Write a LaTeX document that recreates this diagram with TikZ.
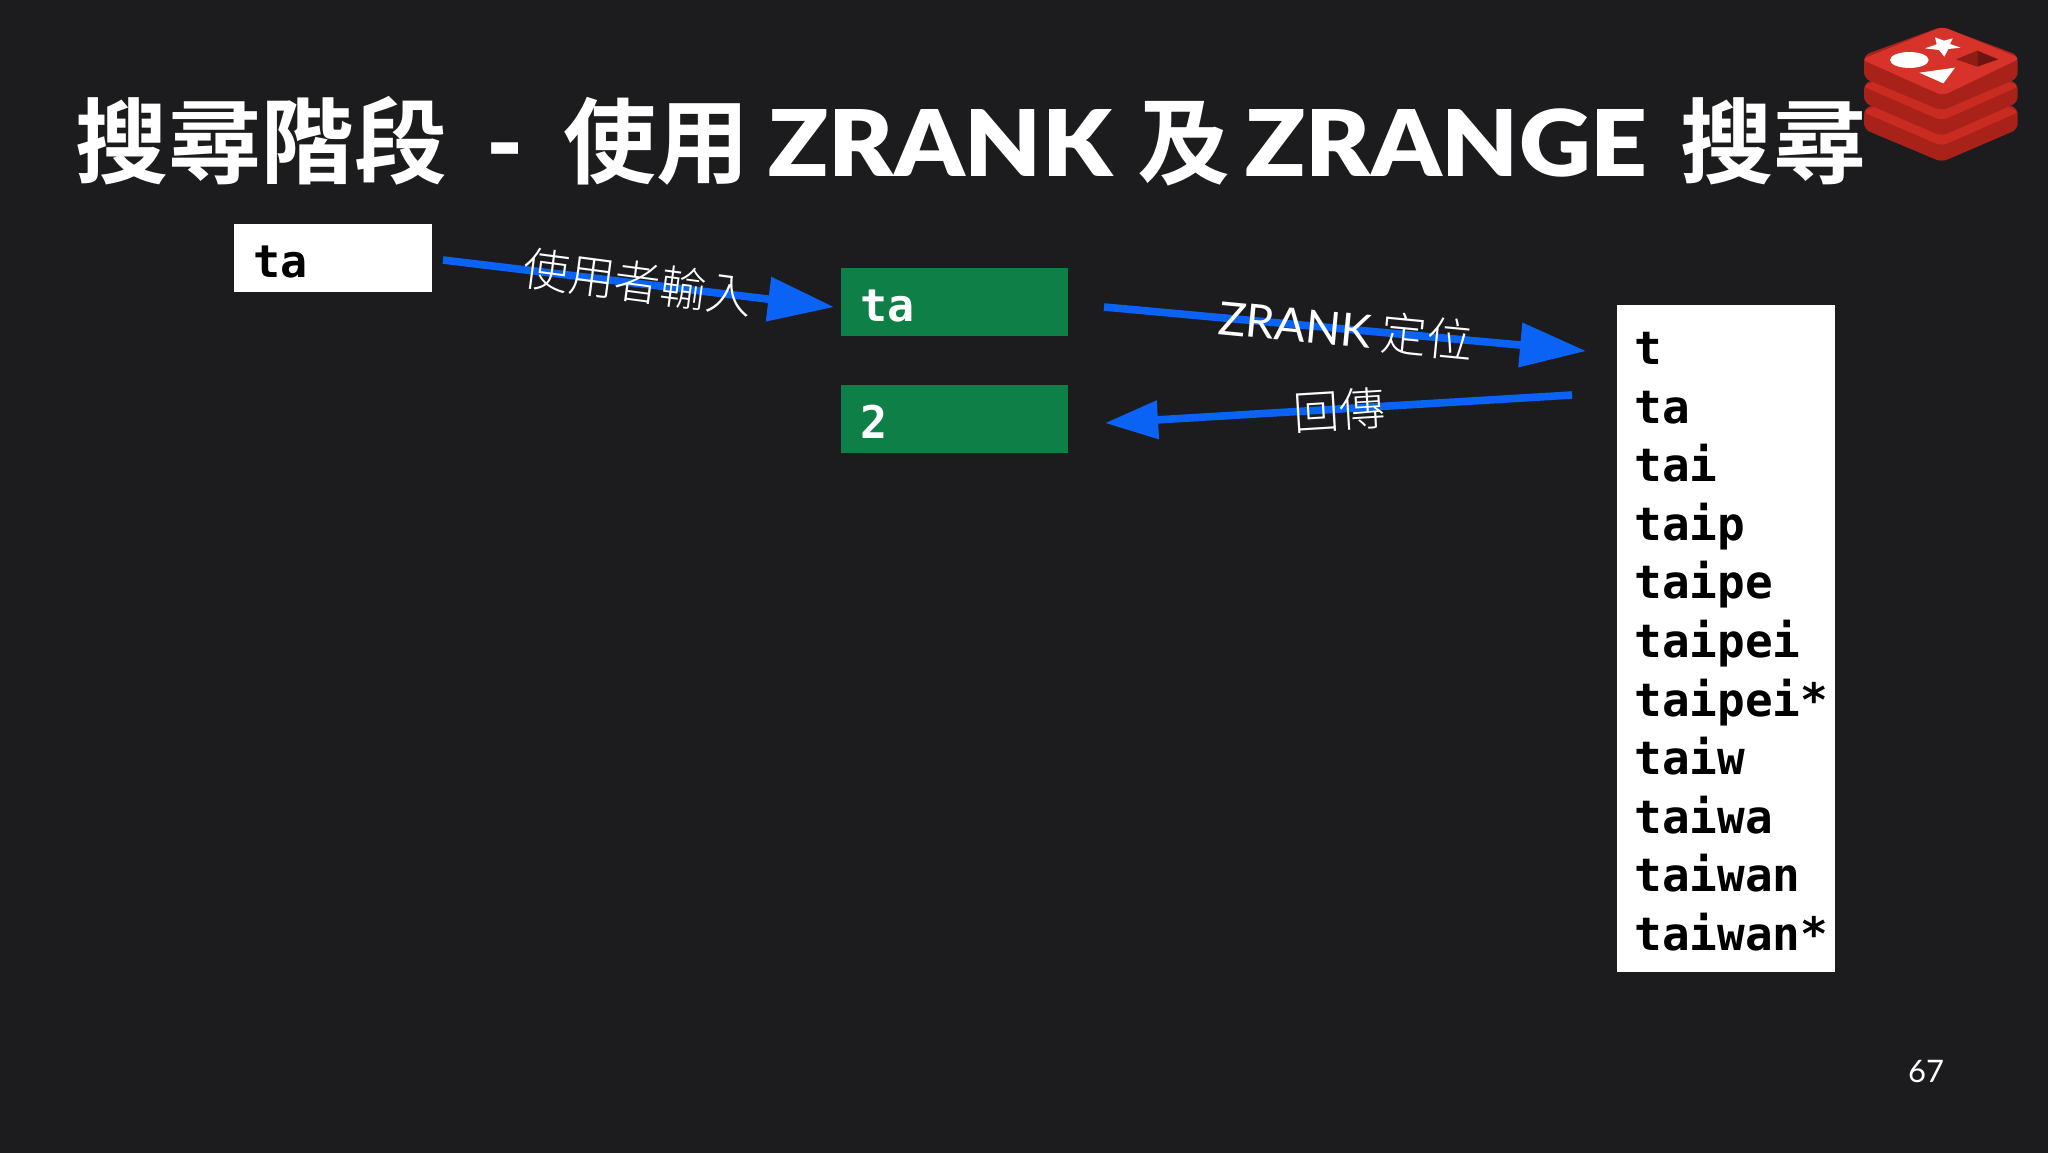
\documentclass[tikz,border=0pt]{standalone}
\usepackage{fontspec}
\usetikzlibrary{arrows.meta}
\setmainfont{Lato}
\newfontfamily\cjkbold{Noto Sans CJK TC}[BoldFont={* Bold}]
\newfontfamily\cjklight{Noto Sans CJK TC Light}
\newfontfamily\latinheavy{Lato Black}[FakeStretch=1.08]
\newfontfamily\latinlight{Lato}
\newfontfamily\monobold{DejaVu Sans Mono}
\definecolor{bgdark}{HTML}{1C1C1E}
\definecolor{boxgreen}{HTML}{0E7F47}
\definecolor{arrowblue}{HTML}{0A63F5}
\definecolor{redistop}{HTML}{D8332A}
\definecolor{redisside}{HTML}{A8221A}
\definecolor{redislip}{HTML}{C92B21}
\newcommand{\titlecjk}[2]{\makebox[#1][l]{\cjkbold\bfseries\fontsize{46.5pt}{50pt}\selectfont #2}}
\newcommand{\titlelat}[2]{\makebox[#1][l]{\latinheavy\fontsize{46pt}{50pt}\selectfont #2}}
\tikzset{
  whitebox/.style={fill=white,text=black,anchor=north west,minimum width=99pt,minimum height=34pt,inner xsep=9.5pt,inner ysep=0pt,text width=80pt,align=left,text height=19pt,text depth=0pt,font=\monobold\bfseries\fontsize{22.5pt}{24pt}\selectfont},
  greenbox/.style={whitebox,fill=boxgreen,text=white,minimum width=113.5pt,text width=94.5pt},
  listbox/.style={fill=white,text=black,anchor=north west,minimum width=109pt,minimum height=333.5pt,inner xsep=8.5pt,inner ysep=0pt,text width=92pt,align=left,font=\monobold\bfseries\fontsize{23pt}{29.3pt}\selectfont},
  flow/.style={arrowblue,line width=3.8pt,-{Triangle[length=33pt,width=21.5pt]}},
  flowback/.style={arrowblue,line width=3.8pt,-{Triangle[length=26.5pt,width=18.5pt]}},
  flowlabel/.style={text=white,inner sep=0pt,font=\cjklight\fontsize{23pt}{24pt}\selectfont},
  titletext/.style={text=white,anchor=base west,inner sep=0pt},
  pagenum/.style={text=white,inner sep=0pt,font=\fontsize{15.5pt}{18pt}\selectfont},
}
\begin{document}
\begin{tikzpicture}[x=0.5pt,y=-0.5pt]
\useasboundingbox (0,0) rectangle (2048,1152);
\fill[bgdark] (-6,-6) rectangle (2054,1158);
% title
\node[titletext] (title) at (75,176) {\titlecjk{205.5pt}{搜尋階段}\titlelat{38.5pt}{-}\titlecjk{102.5pt}{使用}\titlelat{184.5pt}{ZRANK}\titlecjk{54pt}{及}\titlelat{217.5pt}{ZRANGE}\titlecjk{95pt}{搜尋}};
% boxes
\node[whitebox] (input) at (234,224) {ta};
\node[greenbox] (query) at (841,268) {ta};
\node[greenbox] (rank) at (841,385) {2};
\node[listbox] (list) at (1617,305) {\rule{0pt}{19pt}t\\ta\\tai\\taip\\taipe\\taipei\\taipei*\\taiw\\taiwa\\taiwan\\taiwan*};
% connectors
\coordinate (a1s) at (443,260);
\coordinate (a1e) at (834,307);
\coordinate (a2s) at (1104,307);
\coordinate (a2e) at (1586,351);
\coordinate (a3s) at (1572,395);
\coordinate (a3e) at (1105,423);
\draw[flow] (a1s) -- (a1e);
\draw[flow] (a2s) -- (a2e);
\draw[flowback] (a3s) -- (a3e);
\node[flowlabel,rotate=-7.5] (l1) at (638,282) {使用者輸入};
\node[flowlabel,rotate=-5.5] (l2) at (1346,329) {{\latinlight ZRANK} 定位};
\node[flowlabel,rotate=3.5] (l3) at (1339,410) {回傳};
\node[pagenum] (page) at (1926,1071) {67};
% logo
\begin{scope}[shift={(1800,0)},scale=1/3]
  % bottom layer
  \fill[redisside,rounded corners=3pt] (192,325) -- (192,388) -- (425,486) -- (653,388) -- (653,325) -- (425,240) -- cycle;
  \fill[redislip,rounded corners=3pt] (186,335) -- (425,240) -- (659,335) -- (425,438) -- cycle;
  % middle layer
  \fill[redisside,rounded corners=3pt] (192,250) -- (192,308) -- (425,408) -- (653,308) -- (653,250) -- (425,170) -- cycle;
  \fill[redislip,rounded corners=3pt] (186,258) -- (425,165) -- (659,258) -- (425,362) -- cycle;
  % top layer
  \fill[redisside,rounded corners=3pt] (192,165) -- (192,235) -- (425,332) -- (653,235) -- (653,165) -- (425,80) -- cycle;
  \fill[redistop,rounded corners=3pt] (184,178) -- (428,80) -- (661,175) -- (428,287) -- cycle;
  \fill[white] (328,180) ellipse [x radius=58,y radius=24];
  \fill[white] (405,112) -- (432,122) -- (458,115) -- (450,132) -- (482,143) -- (445,147) -- (433,170) -- (417,150) -- (375,145) -- (410,133) -- cycle;
  \fill[white] (358,218) -- (465,203) -- (430,250) -- cycle;
  \fill[redisside!85!black] (468,178) -- (532,152) -- (532,200) -- cycle;
  \fill[redisside!65!black] (532,152) -- (595,178) -- (532,200) -- cycle;
\end{scope}
\end{tikzpicture}
\end{document}
